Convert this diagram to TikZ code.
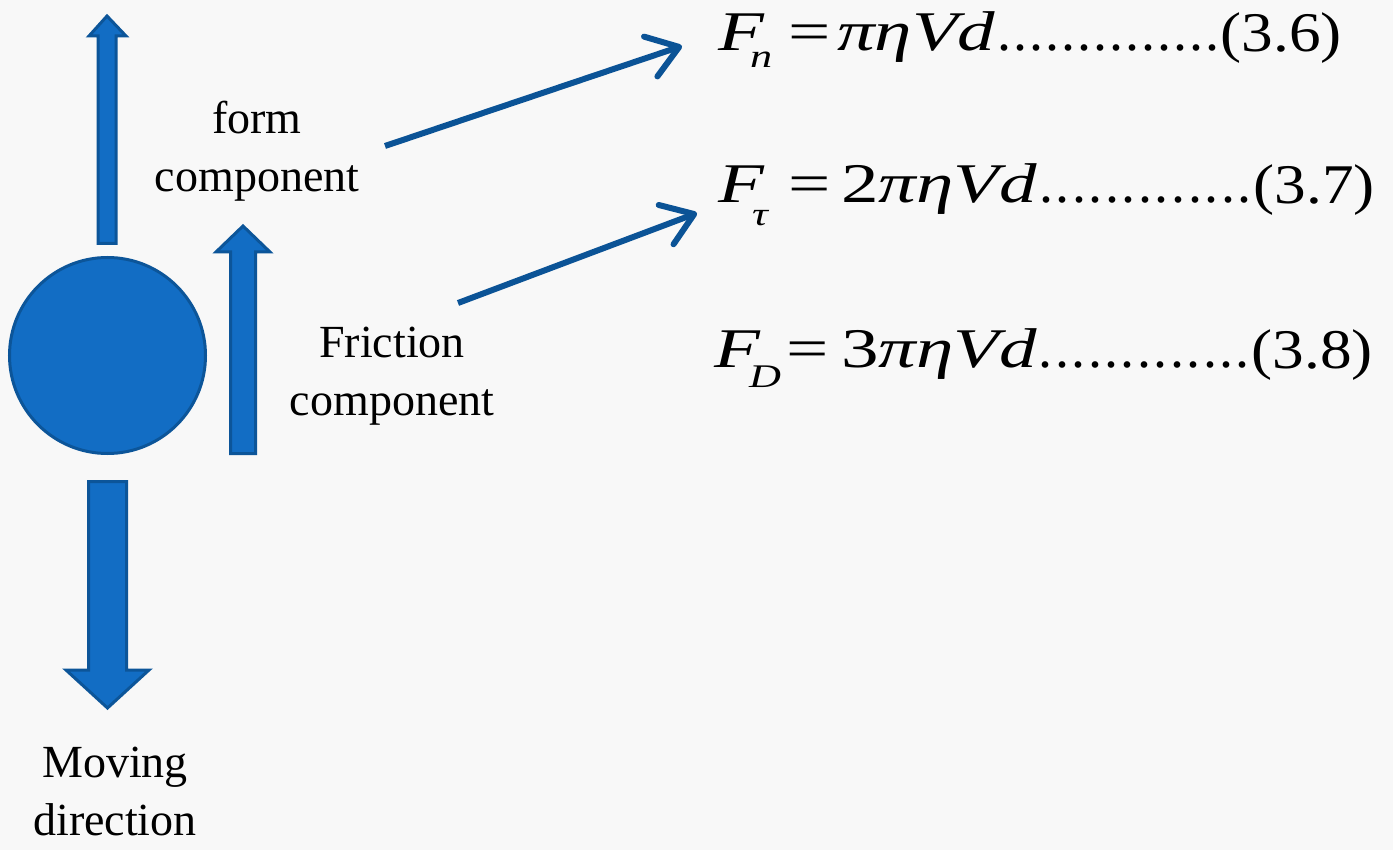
\documentclass[tikz,border=0pt]{standalone}
\usepackage{fontspec}
\setmainfont{Liberation Serif}
\usepackage{graphicx}
\usetikzlibrary{arrows.meta,calc}
\definecolor{bgcol}{RGB}{248,248,248}
\definecolor{blockfill}{RGB}{18,109,196}
\definecolor{blockedge}{RGB}{12,85,153}
\definecolor{linecol}{RGB}{11,83,150}
\newcommand\eqsc[1]{\scalebox{1.13}[1]{#1}}
\newcommand\mathsc[1]{\scalebox{1.34}[1]{#1}}
\newcommand\subsc[3]{\kern#1\raisebox{#2}{\fontsize{33}{36}\selectfont\mathsc{\itshape #3}}}
\tikzset{
  block/.style={fill=blockfill, draw=blockedge, line width=3pt, line join=miter},
  label/.style={font=\fontsize{46}{58}\selectfont, align=center, inner sep=0pt, anchor=base},
  eqf/.style={font=\fontsize{56}{60}\selectfont, inner sep=0pt},
  pointer/.style={draw=linecol, line width=6pt, -{Straight Barb[length=30pt,width=42pt,round]}}
}
\begin{document}
\begin{tikzpicture}[x=1pt,y=-1pt]
\fill[bgcol] (0,0) rectangle (1393,850);
\useasboundingbox (0,0) rectangle (1393,850);

% block arrows
\draw[block] (98,243.5) -- (98,36) -- (89,36) -- (107,16) -- (126,36) -- (116,36) -- (116,243.5) -- cycle;
\draw[block] (230.5,453.5) -- (230.5,252) -- (216,252) -- (243,226) -- (270,252) -- (255.5,252) -- (255.5,453.5) -- cycle;
\draw[block] (88.5,481.5) -- (88.5,670) -- (66,670) -- (107.5,708) -- (149,670) -- (126.5,670) -- (126.5,481.5) -- cycle;

% ball
\node[circle, fill=blockfill, draw=blockedge, line width=3pt, minimum size=196pt, inner sep=0pt] (ball) at (107.5,355.5) {};

% labels (base = baseline of the last line)
\node[label] (form) at (257,192) {form\\component};
\node[label] (fric) at (392,415) {Friction\\component};
\node[label] (move) at (115,835) {Moving\\direction};

% pointers
\coordinate (p1s) at (385,146);
\coordinate (p1e) at (682,46);
\coordinate (p2s) at (458,303);
\coordinate (p2e) at (697,213);
\draw[pointer] (p1s) -- (p1e);
\draw[pointer] (p2s) -- (p2e);

% equation 1
\node[eqf, anchor=base west] (f1) at (718,51) {\mathsc{\itshape F}\subsc{-14pt}{-17pt}{n}};
\node[eqf, anchor=base] (e1) at (810,51) {\mathsc{=}};
\node[eqf, anchor=base west] (r1) at (837,51) {\mathsc{\itshape πηVd}};
\node[eqf, anchor=base east] (n1) at (1342,52) {\eqsc{(3.6)}};
\path let \p1=(r1.base east), \p2=(n1.base west) in
  node[eqf, anchor=base west] (d1) at (\x1,51) {\hbox to \dimexpr\x2-\x1\relax{\xleaders\hbox to 15.6pt{\hss.\hss}\hfill}};

% equation 2
\node[eqf, anchor=base west] (f2) at (718,203) {\mathsc{\itshape F}\subsc{-12pt}{-23pt}{τ}};
\node[eqf, anchor=base] (e2) at (810,203) {\mathsc{=}};
\node[eqf, anchor=base west] (r2) at (841,203) {\mathsc{2\itshape πηVd}};
\node[eqf, anchor=base east] (n2) at (1375,204) {\eqsc{(3.7)}};
\path let \p1=(r2.base east), \p2=(n2.base west) in
  node[eqf, anchor=base west] (d2) at (\x1,203) {\hbox to \dimexpr\x2-\x1\relax{\xleaders\hbox to 15.6pt{\hss.\hss}\hfill}};

% equation 3
\node[eqf, anchor=base west] (f3) at (714,368) {\mathsc{\itshape F}\subsc{-11pt}{-20pt}{D}};
\node[eqf, anchor=base] (e3) at (808,368) {\mathsc{=}};
\node[eqf, anchor=base west] (r3) at (841,368) {\mathsc{3\itshape πηVd}};
\node[eqf, anchor=base east] (n3) at (1373,369) {\eqsc{(3.8)}};
\path let \p1=(r3.base east), \p2=(n3.base west) in
  node[eqf, anchor=base west] (d3) at (\x1,368) {\hbox to \dimexpr\x2-\x1\relax{\xleaders\hbox to 15.6pt{\hss.\hss}\hfill}};
\end{tikzpicture}
\end{document}
